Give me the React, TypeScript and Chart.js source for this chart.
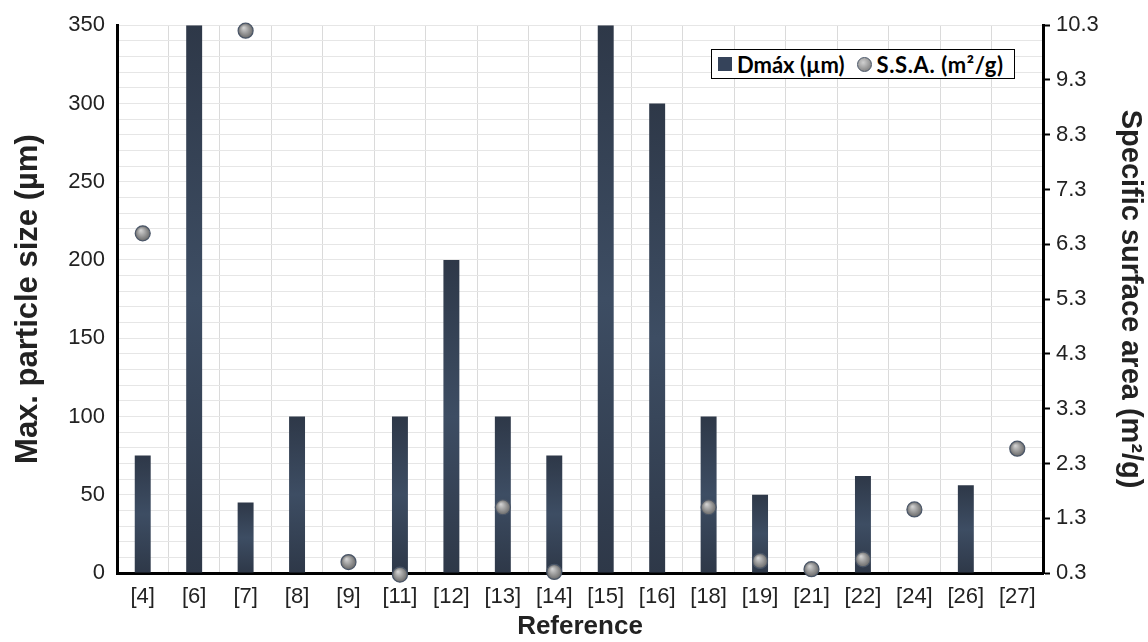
import React, { useEffect, useRef } from 'react';
import { Chart, registerables } from 'chart.js';

Chart.register(...registerables);

const categories = ['[4]', '[6]', '[7]', '[8]', '[9]', '[11]', '[12]', '[13]', '[14]', '[15]', '[16]', '[18]', '[19]', '[21]', '[22]', '[24]', '[26]', '[27]'];
const dmaxValues: (number | null)[] = [75, 350, 45, 100, null, 100, 200, 100, 75, 350, 300, 100, 50, null, 62, null, 56, null];
const ssaValues: (number | null)[] = [6.5, null, 10.2, null, 0.5, 0.27, null, 1.5, 0.32, null, null, 1.5, 0.52, 0.37, 0.55, 1.46, null, 2.57];

const leftMin = 0;
const leftMax = 350;
const leftLabelStep = 50;
const leftGridStep = 10;
const rightMin = 0.3;
const rightMax = 10.3;
const rightStep = 1;

const FONT = "'Liberation Sans', Arial, sans-serif";

export default function App() {
  const canvasRef = useRef<HTMLCanvasElement | null>(null);

  useEffect(() => {
    document.body.style.margin = '0';
    const canvas = canvasRef.current;
    if (!canvas) return;

    const barColor = (ctx: any) => {
      const chart = ctx.chart;
      const { chartArea, scales } = chart;
      if (!chartArea || ctx.type !== 'data' || ctx.raw == null) return '#34415a';
      const top = Math.max(scales.y.getPixelForValue(ctx.raw), chartArea.top);
      const bottom = scales.y.getPixelForValue(0);
      const g = chart.ctx.createLinearGradient(0, top, 0, bottom);
      g.addColorStop(0, '#2e3848');
      g.addColorStop(0.5, '#3d4d63');
      g.addColorStop(1, '#2e3848');
      return g;
    };

    const pointColor = (ctx: any) => {
      const chart = ctx.chart;
      const { chartArea, scales } = chart;
      if (!chartArea || ctx.type !== 'data' || ctx.raw == null) return '#8c8c8c';
      const x = scales.x.getPixelForValue(ctx.dataIndex);
      const y = scales.y1.getPixelForValue(ctx.raw);
      const g = chart.ctx.createRadialGradient(x - 2, y - 3, 0.5, x, y, 7.5);
      g.addColorStop(0, '#d0d0d0');
      g.addColorStop(0.6, '#939393');
      g.addColorStop(1, '#6a6a6a');
      return g;
    };

    const chart = new Chart(canvas, {
      type: 'bar',
      data: {
        labels: categories,
        datasets: [
          {
            type: 'line',
            label: 'S.S.A. (m²/g)',
            data: ssaValues,
            yAxisID: 'y1',
            showLine: false,
            pointRadius: 7.5,
            pointHoverRadius: 7.5,
            pointBackgroundColor: pointColor,
            pointBorderColor: '#4a5668',
            pointBorderWidth: 1.2,
            order: 0,
            clip: false,
          } as any,
          {
            type: 'bar',
            label: 'Dmáx (µm)',
            data: dmaxValues,
            yAxisID: 'y',
            backgroundColor: barColor,
            categoryPercentage: 1,
            barPercentage: 0.31,
            order: 1,
          } as any,
        ],
      },
      options: {
        animation: false,
        responsive: false,
        maintainAspectRatio: false,
        layout: { padding: { top: 23, left: 0, right: 0, bottom: 0 } },
        plugins: {
          legend: { display: false },
          tooltip: { enabled: false },
        },
        scales: {
          x: {
            offset: true,
            grid: { display: true, color: '#dadada', lineWidth: 1, drawTicks: false, offset: true },
            border: { display: true, color: '#000', width: 3 },
            ticks: { color: '#222', font: { family: FONT, size: 22 }, padding: 11, maxRotation: 0, autoSkip: false },
            title: { display: true, text: 'Reference', color: '#222', font: { family: FONT, size: 26, weight: 'bold' }, padding: { top: 0, bottom: 0 } },
            afterFit: (s: any) => { s.height = 69; },
          },
          y: {
            position: 'left',
            min: leftMin,
            max: leftMax,
            grid: { color: '#e6e6e6', lineWidth: 1, drawTicks: false },
            border: { display: true, color: '#000', width: 3 },
            ticks: {
              stepSize: leftGridStep,
              color: '#222',
              font: { family: FONT, size: 22 },
              padding: 12,
              autoSkip: false,
              callback: (v: any) => (Number(v) % leftLabelStep === 0 ? String(v) : ''),
            },
            title: { display: true, text: 'Max. particle size (µm)', color: '#222', font: { family: FONT, size: 31, weight: 'bold' }, padding: { top: 10, bottom: 0 } },
            afterFit: (s: any) => { s.width = 117; },
          },
          y1: {
            position: 'right',
            min: rightMin,
            max: rightMax,
            grid: { drawOnChartArea: false, drawTicks: true, tickLength: 7, tickWidth: 2, tickColor: '#000' },
            border: { display: true, color: '#000', width: 3 },
            ticks: {
              stepSize: rightStep,
              color: '#222',
              font: { family: FONT, size: 22 },
              padding: 6,
              autoSkip: false,
              callback: (v: any) => Number(v).toFixed(1),
            },
            title: { display: true, text: 'Specific surface area (m²/g)', color: '#222', font: { family: FONT, size: 29, weight: 'bold' }, padding: { top: 1, bottom: 0 } },
            afterFit: (s: any) => { s.width = 105; },
          },
        },
      } as any,
    });

    return () => chart.destroy();
  }, []);

  return (
    <div style={{ position: 'relative', width: 1148, height: 642 }}>
      <canvas ref={canvasRef} width={1148} height={642} style={{ display: 'block', width: 1148, height: 642 }} />
      <div
        style={{
          position: 'absolute',
          left: 711,
          top: 49,
          width: 302,
          height: 28,
          border: '1.5px solid #000',
          background: '#fff',
          display: 'flex',
          alignItems: 'center',
          fontFamily: "Lato, 'Open Sans', sans-serif",
          fontWeight: 700,
          fontSize: 22,
          color: '#000',
          boxSizing: 'content-box',
          whiteSpace: 'nowrap',
        }}
      >
        <span style={{ display: 'inline-block', width: 14, height: 14, background: '#35435a', marginLeft: 6, marginRight: 5 }} />
        <span>Dmáx (µm)</span>
        <span
          style={{
            display: 'inline-block',
            width: 13,
            height: 13,
            borderRadius: '50%',
            background: 'radial-gradient(circle at 40% 35%, #d0d0d0, #8a8a8a 70%, #6a6a6a)',
            border: '1px solid #4a5668',
            marginLeft: 12,
            marginRight: 5,
          }}
        />
        <span style={{ letterSpacing: 0.6 }}>S.S.A. (m²/g)</span>
      </div>
    </div>
  );
}
